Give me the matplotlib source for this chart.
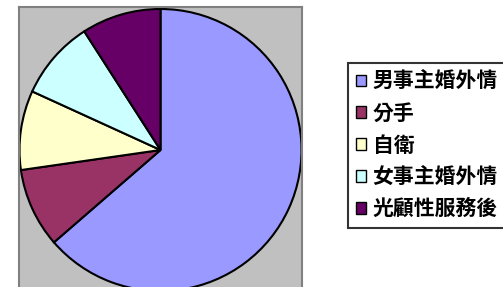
import matplotlib
matplotlib.use('Agg')
import matplotlib.pyplot as plt

plt.rcParams['font.family'] = ['Noto Sans CJK TC', 'DejaVu Sans']

# ---- data ----
labels = ['男事主婚外情', '分手', '自衛', '女事主婚外情', '光顧性服務後']
counts = [7, 1, 1, 1, 1]
colors = ['#9999FF', '#993366', '#FFFFCC', '#CCFFFF', '#660066']

W, H = 503, 287
fig = plt.figure(figsize=(W / 100, H / 100), dpi=100)
fig.patch.set_facecolor('white')

# plot area (gray box), in pixels: x 19..302, y 7..293 from top
x0, x1, y0, y1 = 19, 302, 7, 293
ax = fig.add_axes([x0 / W, 1 - y1 / H, (x1 - x0) / W, (y1 - y0) / H])

wedges, _ = ax.pie(counts, colors=colors, startangle=90, counterclock=False,
                   wedgeprops=dict(edgecolor='black', linewidth=1.5))

# pie() switches the frame off, turn the gray plot area back on
ax.set_frame_on(True)
ax.set_facecolor('#C0C0C0')
r = 141.0
ax.set_aspect('auto')
ax.set_xlim(-(x1 - x0) / 2 / r, (x1 - x0) / 2 / r)
ax.set_ylim(-(y1 - y0) / 2 / r, (y1 - y0) / 2 / r)
ax.set_xticks([])
ax.set_yticks([])
for s in ax.spines.values():
    s.set_visible(True)
    s.set_color('#808080')
    s.set_linewidth(1.5)

leg = fig.legend(wedges, labels, loc='upper left',
                 bbox_to_anchor=(347.5 / W, 1 - 62.5 / H),
                 borderaxespad=0, fancybox=False, shadow=False,
                 frameon=True, prop=dict(size=15, weight='bold'),
                 handlelength=0.5, handleheight=0.5, handletextpad=0.3,
                 labelspacing=0.52, borderpad=0.4)
leg.get_frame().set_edgecolor('black')
leg.get_frame().set_linewidth(1.5)
for h in leg.legend_handles:
    h.set_linewidth(1.0)

fig.savefig('out.png', dpi=100)
